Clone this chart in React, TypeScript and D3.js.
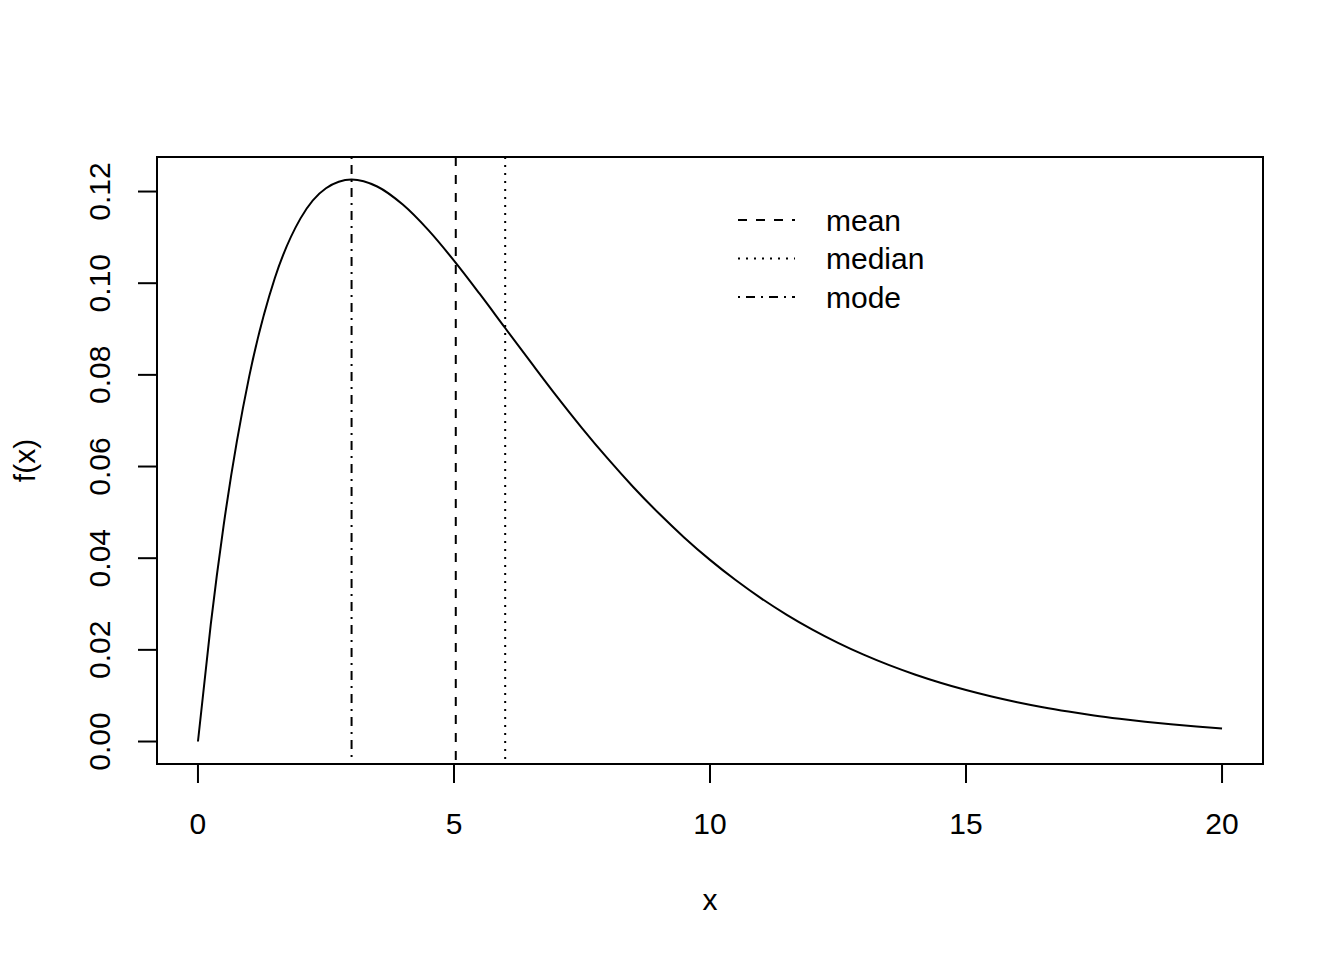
import * as d3 from "d3";
import { useEffect, useRef } from "react";

// density curve values
const xs = [0, 0.25, 0.5, 1, 1.5, 2, 2.5, 3, 3.5, 4, 4.5, 5, 5.5, 6, 6.5, 7, 7.5, 8, 8.5, 9, 9.5, 10,
  10.5, 11, 11.5, 12, 12.5, 13, 13.5, 14, 14.5, 15, 15.5, 16, 16.5, 17, 17.5, 18, 18.5, 19, 19.5, 20];
const fx = [0, 0.02556, 0.04703, 0.07961, 0.10108, 0.11409, 0.12072, 0.12263, 0.1211, 0.11715, 0.11157,
  0.10493, 0.09771, 0.09022, 0.08277, 0.07542, 0.0684, 0.06176, 0.05554, 0.04979, 0.04448, 0.03963,
  0.03523, 0.03124, 0.02765, 0.02442, 0.02153, 0.01895, 0.01666, 0.01463, 0.01283, 0.01123, 0.00982,
  0.00858, 0.00749, 0.00654, 0.00569, 0.00496, 0.00431, 0.00375, 0.00326, 0.00283];

const xTicks = [0, 5, 10, 15, 20];
const yTicks = [0, 0.02, 0.04, 0.06, 0.08, 0.1, 0.12];

const refNames = ["mean", "median", "mode"];
const refValues = [5.035, 6, 3];
const refDash = ["9,9", "2,6", "2,6,9,6"];

export default function App() {
  const ref = useRef<SVGSVGElement>(null);

  useEffect(() => {
    if (!ref.current) return;
    const svg = d3.select(ref.current);
    svg.selectAll("*").remove();

    const W = 1344, H = 960;
    const left = 157, right = 1263, top = 157, bottom = 764;
    const font = "Liberation Sans, Arial, Helvetica, sans-serif";
    const fs = 30;

    const x = d3.scaleLinear().domain([-0.8, 20.8]).range([left, right]);
    const ymax = d3.max(fx)!;
    const pad = ymax * 0.04;
    const y = d3.scaleLinear().domain([-pad, ymax + pad]).range([bottom, top]);

    svg.attr("width", W).attr("height", H).attr("viewBox", `0 0 ${W} ${H}`);
    svg.append("rect").attr("width", W).attr("height", H).attr("fill", "#fff");

    // curve
    const pts = xs.map((v, i) => [v, fx[i]] as [number, number]);
    const line = d3.line<[number, number]>()
      .x(d => x(d[0]))
      .y(d => y(d[1]))
      .curve(d3.curveMonotoneX);
    svg.append("path").attr("d", line(pts)!).attr("fill", "none")
      .attr("stroke", "#000").attr("stroke-width", 2);

    // reference lines
    refValues.forEach((v, i) => {
      svg.append("line")
        .attr("x1", x(v)).attr("x2", x(v))
        .attr("y1", top).attr("y2", bottom)
        .attr("stroke", "#000").attr("stroke-width", 2)
        .attr("stroke-dasharray", refDash[i]);
    });

    // box
    svg.append("rect").attr("x", left).attr("y", top)
      .attr("width", right - left).attr("height", bottom - top)
      .attr("fill", "none").attr("stroke", "#000").attr("stroke-width", 2);

    // x axis
    const gx = svg.append("g");
    gx.append("line").attr("x1", x(0)).attr("x2", x(20)).attr("y1", bottom).attr("y2", bottom)
      .attr("stroke", "#000").attr("stroke-width", 2);
    xTicks.forEach(t => {
      gx.append("line").attr("x1", x(t)).attr("x2", x(t)).attr("y1", bottom).attr("y2", bottom + 19)
        .attr("stroke", "#000").attr("stroke-width", 2);
      gx.append("text").attr("x", x(t)).attr("y", 834).attr("text-anchor", "middle")
        .attr("font-family", font).attr("font-size", fs).text(String(t));
    });

    // y axis
    const gy = svg.append("g");
    yTicks.forEach(t => {
      gy.append("line").attr("x1", left - 19).attr("x2", left).attr("y1", y(t)).attr("y2", y(t))
        .attr("stroke", "#000").attr("stroke-width", 2);
      gy.append("text")
        .attr("transform", `translate(110,${y(t)}) rotate(-90)`)
        .attr("text-anchor", "middle")
        .attr("font-family", font).attr("font-size", fs).text(t.toFixed(2));
    });

    // axis titles
    svg.append("text").attr("x", (left + right) / 2).attr("y", 910).attr("text-anchor", "middle")
      .attr("font-family", font).attr("font-size", fs).text("x");
    svg.append("text").attr("transform", `translate(35,${(top + bottom) / 2}) rotate(-90)`)
      .attr("text-anchor", "middle").attr("font-family", font).attr("font-size", fs).text("f(x)");

    // legend
    refNames.forEach((n, i) => {
      const ly = 220 + i * 38.5;
      svg.append("line").attr("x1", 738).attr("x2", 795).attr("y1", ly).attr("y2", ly)
        .attr("stroke", "#000").attr("stroke-width", 2).attr("stroke-dasharray", refDash[i]);
      svg.append("text").attr("x", 826).attr("y", ly + 10.5)
        .attr("font-family", font).attr("font-size", fs).text(n);
    });
  }, []);

  return <svg ref={ref} style={{ display: "block", position: "absolute", left: 0, top: 0 }} />;
}
